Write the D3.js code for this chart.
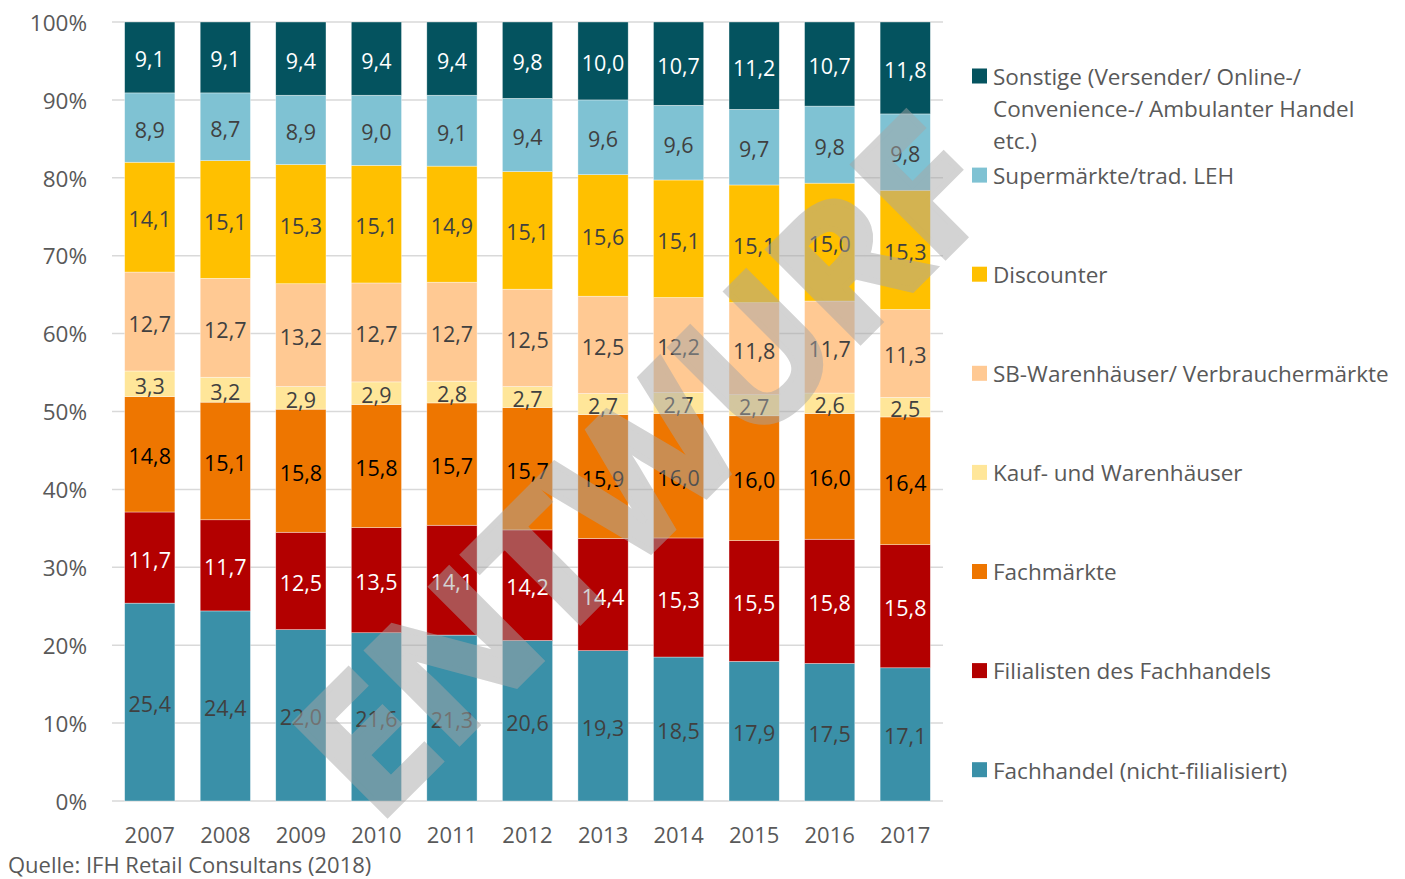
<!DOCTYPE html>
<html lang="de">
<head>
<meta charset="UTF-8">
<title>Marktanteile nach Vertriebsformen</title>
<script src="https://cdn.jsdelivr.net/npm/d3@7"></script>
<style>
  body { margin: 0; background: #fff; }
  svg text { font-family: "Open Sans", "Noto Sans", sans-serif; }
</style>
</head>
<body>
<div id="chart"></div>
<script>
// data (values in %)
const years = ["2007", "2008", "2009", "2010", "2011", "2012", "2013", "2014", "2015", "2016", "2017"];
const fachhandel  = [25.4, 24.4, 22.0, 21.6, 21.3, 20.6, 19.3, 18.5, 17.9, 17.5, 17.1];
const filialisten = [11.7, 11.7, 12.5, 13.5, 14.1, 14.2, 14.4, 15.3, 15.5, 15.8, 15.8];
const fachmaerkte = [14.8, 15.1, 15.8, 15.8, 15.7, 15.7, 15.9, 16.0, 16.0, 16.0, 16.4];
const kaufhaeuser = [3.3, 3.2, 2.9, 2.9, 2.8, 2.7, 2.7, 2.7, 2.7, 2.6, 2.5];
const sbWarenhaus = [12.7, 12.7, 13.2, 12.7, 12.7, 12.5, 12.5, 12.2, 11.8, 11.7, 11.3];
const discounter  = [14.1, 15.1, 15.3, 15.1, 14.9, 15.1, 15.6, 15.1, 15.1, 15.0, 15.3];
const supermarkt  = [8.9, 8.7, 8.9, 9.0, 9.1, 9.4, 9.6, 9.6, 9.7, 9.8, 9.8];
const sonstige    = [9.1, 9.1, 9.4, 9.4, 9.4, 9.8, 10.0, 10.7, 11.2, 10.7, 11.8];
const yTicks = [0, 0.1, 0.2, 0.3, 0.4, 0.5, 0.6, 0.7, 0.8, 0.9, 1];

// series bottom -> top
const series = [
  {key: "fachhandel",  name: ["Fachhandel (nicht-filialisiert)"], values: fachhandel,  color: "#3a90a8", label: "#404040"},
  {key: "filialisten", name: ["Filialisten des Fachhandels"],     values: filialisten, color: "#b30000", label: "#ffffff"},
  {key: "fachmaerkte", name: ["Fachmärkte"],                      values: fachmaerkte, color: "#ee7600", label: "#000000"},
  {key: "kauf",        name: ["Kauf- und Warenhäuser"],           values: kaufhaeuser, color: "#ffe699", label: "#404040"},
  {key: "sb",          name: ["SB-Warenhäuser/ Verbrauchermärkte"], values: sbWarenhaus, color: "#ffc993", label: "#404040"},
  {key: "discounter",  name: ["Discounter"],                      values: discounter,  color: "#ffc000", label: "#404040"},
  {key: "super",       name: ["Supermärkte/trad. LEH"],           values: supermarkt,  color: "#7fc2d3", label: "#404040"},
  {key: "sonstige",    name: ["Sonstige (Versender/ Online-/", "Convenience-/ Ambulanter Handel", "etc.)"], values: sonstige, color: "#04535f", label: "#ffffff"}
];

const rows = years.map((y, i) => {
  const r = {year: y};
  series.forEach(s => r[s.key] = s.values[i]);
  return r;
});

const W = 1405, H = 879;
const svg = d3.select("#chart").append("svg")
  .attr("width", W).attr("height", H);

const x = d3.scaleBand().domain(years).range([112, 943]).paddingInner(0.335).paddingOuter(0.1675);
const y = d3.scaleLinear().domain([0, 1]).range([801, 22]);

const stack = d3.stack().keys(series.map(s => s.key)).offset(d3.stackOffsetExpand);
const stacked = stack(rows);

// gridlines
svg.append("g")
  .selectAll("line")
  .data(yTicks)
  .join("line")
    .attr("x1", 112).attr("x2", 943)
    .attr("y1", d => y(d)).attr("y2", d => y(d))
    .attr("stroke", "#d9d9d9").attr("stroke-width", 1.5);

// y axis labels
svg.append("g")
  .attr("transform", "translate(87,1)")
  .call(d3.axisLeft(y).tickValues(yTicks).tickSize(0).tickPadding(0).tickFormat(d => Math.round(d * 100) + "%"))
  .call(g => g.select(".domain").remove())
  .selectAll("text")
    .attr("fill", "#595959").style("font-size", "22.5px");

// x axis labels
svg.append("g")
  .attr("transform", "translate(0,827)")
  .call(d3.axisBottom(x).tickSize(0).tickPadding(0))
  .call(g => g.select(".domain").remove())
  .selectAll("text")
    .attr("fill", "#595959").style("font-size", "22px").attr("dy", "0.71em");

// bars
const layers = svg.append("g").selectAll("g")
  .data(stacked)
  .join("g")
    .attr("fill", (d, i) => series[i].color);

layers.selectAll("rect")
  .data(d => d)
  .join("rect")
    .attr("x", d => x(d.data.year))
    .attr("y", d => y(d[1]))
    .attr("width", x.bandwidth())
    .attr("height", d => y(d[0]) - y(d[1]))
    .attr("stroke", "#ffffff").attr("stroke-width", 0.6).attr("stroke-opacity", 0.6);

// value labels
stacked.forEach((layer, i) => {
  svg.append("g").selectAll("text")
    .data(layer)
    .join("text")
      .attr("x", d => x(d.data.year) + x.bandwidth() / 2)
      .attr("y", d => (y(d[0]) + y(d[1])) / 2 + 2.5)
      .attr("dy", "0.35em")
      .attr("text-anchor", "middle")
      .attr("fill", series[i].label)
      .style("font-size", "21.5px")
      .text(d => d.data[series[i].key].toFixed(1).replace(".", ","));
});

// legend, top item first
const legend = svg.append("g").attr("transform", "translate(972,0)");
series.slice().reverse().forEach((s, i) => {
  const cy = 76 + i * 99.1;
  legend.append("rect")
    .attr("x", 0).attr("y", cy - 7.5)
    .attr("width", 15).attr("height", 15)
    .attr("fill", s.color);
  const t = legend.append("text")
    .attr("x", 21).attr("y", cy + 1)
    .attr("fill", "#595959").style("font-size", "22.5px");
  s.name.forEach((line, j) => {
    t.append("tspan").attr("x", 21).attr("dy", j === 0 ? "0.35em" : "32px").text(line);
  });
});

// source
svg.append("text")
  .attr("x", 8).attr("y", 865).attr("dy", "0.35em")
  .attr("fill", "#595959").style("font-size", "22px")
  .text("Quelle: IFH Retail Consultans (2018)");

// watermark
svg.append("g")
  .attr("opacity", 0.49)
  .append("text")
    .attr("transform", "translate(376,826) rotate(-45)")
    .attr("fill", "#a6a6a6")
    .attr("stroke", "#a6a6a6").attr("stroke-width", 6).attr("stroke-linejoin", "miter")
    .style("font-size", "182px").style("font-weight", "bold")
    .text("ENTWURF");
</script>
</body>
</html>
